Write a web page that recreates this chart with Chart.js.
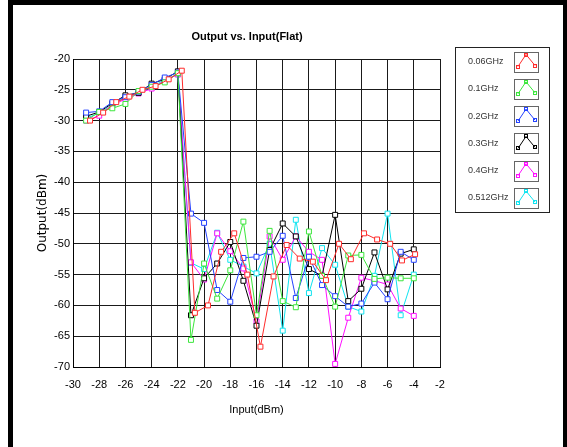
<!DOCTYPE html>
<html>
<head>
<meta charset="utf-8">
<script src="https://cdn.jsdelivr.net/npm/chart.js@4.4.0/dist/chart.umd.min.js"></script>
<style>
  html, body { margin: 0; padding: 0; background: #fff; }
  #chart { display: block; }
</style>
</head>
<body>
<canvas id="chart" width="567" height="447"></canvas>
<script>
// input power sweep (dBm)
const inputs = [-29, -28, -27, -26, -25, -24, -23, -22, -21, -20, -19, -18, -17,
                -16, -15, -14, -13, -12, -11, -10, -9, -8, -7, -6, -5, -4];
// the 0.06GHz sweep sits a little to the right of the others
const inputs006 = [-28.7, -27.7, -26.7, -25.7, -24.7, -23.7, -22.7, -21.7, -20.7,
                   -19.7, -18.7, -17.7, -16.7, -15.7, -14.7, -13.7, -12.7, -11.7,
                   -10.7, -9.7, -8.8, -7.8, -6.8, -5.8, -4.9, -3.9];

const freqLabels = ['0.06GHz', '0.1GHz', '0.2GHz', '0.3GHz', '0.4GHz', '0.512GHz'];

// output power (dBm) per frequency
const out006 = [-30.0, -28.7, -27.0, -26.1, -25.0, -24.4, -23.3, -21.9,
                -61.2, -60.0, -51.3, -48.3, -55.0, -66.7, -55.3, -50.2, -52.4,
                -52.9, -55.9, -50.0, -52.5, -48.3, -49.3, -50.0, -52.7, -51.7];
const out01  = [-30.0, -28.6, -28.0, -27.3, -25.2, -24.5, -23.8, -22.3,
                -65.6, -53.2, -58.9, -54.3, -46.4, -61.6, -47.9, -59.3, -60.3,
                -48.0, -55.2, -60.2, -51.9, -51.8, -55.7, -55.5, -55.6, -55.6];
const out02  = [-28.7, -28.5, -27.0, -26.2, -25.3, -24.2, -23.0, -22.2,
                -45.1, -46.6, -57.5, -59.4, -52.3, -52.1, -51.3, -48.7, -58.8,
                -52.1, -56.7, -58.5, -60.2, -59.7, -56.3, -59.0, -51.3, -52.6];
const out03  = [-29.3, -28.6, -27.2, -25.9, -25.5, -24.0, -23.3, -22.0,
                -61.6, -55.6, -53.2, -49.7, -56.0, -63.3, -51.0, -46.7, -48.8,
                -54.1, -55.2, -45.3, -59.3, -57.3, -51.4, -57.4, -51.6, -50.9];
const out04  = [-30.0, -29.2, -27.5, -26.5, -25.6, -24.8, -23.5, -22.5,
                -53.0, -55.8, -48.3, -51.2, -54.0, -62.6, -48.8, -52.6, -48.8,
                -51.3, -52.6, -69.5, -62.0, -55.5, -56.0, -56.6, -60.5, -61.7];
const out0512 = [-29.6, -28.8, -27.4, -26.2, -25.5, -24.5, -23.4, -22.5,
                -53.1, -54.1, -48.2, -52.6, -53.7, -54.8, -50.0, -64.1, -46.1,
                -58.0, -50.7, -53.4, -60.2, -61.0, -55.2, -45.1, -61.6, -55.0];

const outputs = [out006, out01, out02, out03, out04, out0512];
const sweeps = [inputs006, inputs, inputs, inputs, inputs, inputs];
const seriesColors = ['#ff2b2b', '#3ce63c', '#2442ff', '#000000', '#ff10ff', '#10e4f0'];

const SANS = "'Liberation Sans', Arial, sans-serif";

// white page, black frame, title and the boxed legend on the right
const framePlugin = {
    id: 'frame',
    beforeDraw(chart) {
        const ctx = chart.ctx;
        ctx.save();
        ctx.fillStyle = '#fff';
        ctx.fillRect(0, 0, chart.width, chart.height);
        ctx.fillStyle = '#000';
        ctx.fillRect(8, 0, 5, chart.height);
        ctx.fillRect(8, 0, chart.width - 8, 5);
        ctx.fillRect(chart.width - 4, 0, 4, chart.height);
        ctx.font = 'bold 11px ' + SANS;
        ctx.textAlign = 'center';
        ctx.textBaseline = 'middle';
        ctx.fillText('Output vs. Input(Flat)', 247, 37);
        ctx.restore();
    },
    afterDraw(chart) {
        const ctx = chart.ctx;
        ctx.save();
        ctx.strokeStyle = '#222';
        ctx.lineWidth = 1;
        ctx.strokeRect(455.5, 47.5, 94, 165);
        chart.data.datasets.forEach((ds, i) => {
            const cy = 61.5 + i * 27.3;
            ctx.fillStyle = '#333';
            ctx.font = '9px ' + SANS;
            ctx.textAlign = 'left';
            ctx.textBaseline = 'middle';
            ctx.fillText(ds.label, 468, cy);
            ctx.strokeStyle = '#666';
            ctx.strokeRect(514.5, Math.round(cy - 10) + 0.5, 24, 20);
            const pts = [[518, cy + 5], [526, cy - 7], [535, cy + 4]];
            ctx.strokeStyle = ds.borderColor;
            ctx.beginPath();
            pts.forEach((p, k) => k ? ctx.lineTo(p[0], p[1]) : ctx.moveTo(p[0], p[1]));
            ctx.stroke();
            pts.forEach(p => ctx.strokeRect(Math.round(p[0]) - 1.5, Math.round(p[1]) - 1.5, 3, 3));
        });
        ctx.restore();
    }
};

const ctx = document.getElementById('chart').getContext('2d');
new Chart(ctx, {
    type: 'line',
    data: {
        datasets: outputs.map((vals, i) => ({
            label: freqLabels[i],
            data: sweeps[i].map((x, k) => ({x: x, y: vals[k]})),
            borderColor: seriesColors[i],
            backgroundColor: seriesColors[i],
            borderWidth: 1,
            pointStyle: 'rect',
            pointRadius: 3.5,
            pointBorderWidth: 1,
            pointBorderColor: seriesColors[i],
            pointBackgroundColor: '#fff',
            tension: 0,
            fill: false
        }))
    },
    options: {
        responsive: false,
        animation: false,
        layout: {
            padding: {left: 0, right: 127, top: 59, bottom: 0}
        },
        plugins: {
            legend: {display: false},
            title: {display: false},
            tooltip: {enabled: false}
        },
        scales: {
            x: {
                type: 'linear',
                min: -30,
                max: -2,
                afterFit: s => { s.height = 80; },
                ticks: {
                    stepSize: 2,
                    padding: 11,
                    color: '#000',
                    font: {family: SANS, size: 11}
                },
                grid: {color: '#1a1a1a', lineWidth: 1, drawTicks: false},
                border: {color: '#000', width: 1},
                title: {
                    display: true,
                    text: 'Input(dBm)',
                    color: '#000',
                    font: {family: SANS, size: 11},
                    padding: {top: 0, bottom: 30}
                }
            },
            y: {
                min: -70,
                max: -20,
                afterFit: s => { s.width = 73; },
                ticks: {
                    stepSize: 5,
                    padding: 3,
                    color: '#000',
                    font: {family: SANS, size: 11}
                },
                grid: {color: '#1a1a1a', lineWidth: 1, drawTicks: false},
                border: {color: '#000', width: 1},
                title: {
                    display: true,
                    text: 'Output(dBm)',
                    color: '#000',
                    font: {family: 'DejaVu Sans', size: 12},
                    padding: {top: 36, bottom: 0}
                }
            }
        }
    },
    plugins: [framePlugin]
});
</script>
</body>
</html>
